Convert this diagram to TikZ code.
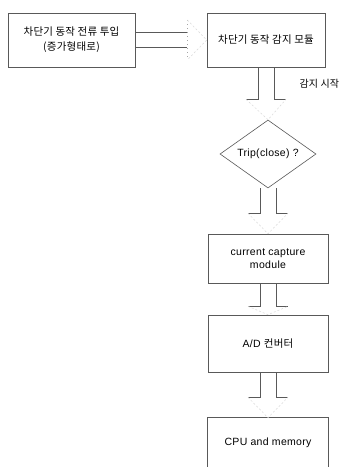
\documentclass[tikz,border=0pt]{standalone}
\usepackage{fontspec}
\setmainfont{Liberation Sans}[LetterSpace=3]
\newfontfamily\kr{Noto Sans CJK KR}[LetterSpace=2]
\usetikzlibrary{calc,shapes.geometric}
\tikzset{
  conn/.style={draw=black!65, line width=0.6pt},
  faint/.style={draw=black!15, line width=0.5pt, dash pattern=on 2pt off 2pt},
  boxnode/.style={draw=black!65, line width=0.6pt, minimum width=120pt, align=center, inner sep=0pt, font=\fontsize{10.5}{13}\selectfont},
  krtext/.style={font=\kr\fontsize{10.5}{15}\selectfont},
}
\newcommand\blockarrow[3]{%
  \draw[conn] ($(#1.south)+(-8,0)$) -- ++(0,#3) -- ++(-12,0);
  \draw[conn] ($(#1.south)+(8,0)$) -- ++(0,#3) -- ++(12,0);
  \draw[faint] ($(#1.south)+(-20,#3)$) -- (#2.north) -- ($(#1.south)+(20,#3)$);}
\begin{document}
\begin{tikzpicture}[x=1pt,y=-1pt]
\useasboundingbox[fill=white] (0,0) rectangle (345,467);
\node[boxnode, krtext, minimum width=127pt, minimum height=54pt] (inject) at (71.5,40) {차단기 동작 전류 투입\\(증가형태로)};
\node[boxnode, krtext, minimum width=118pt, minimum height=54pt] (detect) at (266,40) {차단기 동작 감지 모듈};
\node[conn, shape=diamond, aspect=1.4, minimum width=96pt, minimum height=68pt, inner sep=0pt, font=\fontsize{10.5}{13}\selectfont] (trip) at (268,154) {Trip(close) ?};
\node[boxnode, minimum height=49pt] (capture) at (268,258.5) {current capture\\module};
\node[boxnode, minimum height=57pt] (adc) at (268,343.5) {A/D {\kr 컨버터}};
\node[boxnode, draw=none, minimum height=50pt] (cpu) at (268,443) {CPU and memory};
\draw[conn] (cpu.south west) |- (cpu.north east) -- (cpu.south east);
\node[font=\kr\fontsize{10}{12}\selectfont, anchor=west] (start) at (296,84) {감지 시작};
% horizontal block arrow
\coordinate (hb1) at ($(inject.east)+(52,-8)$);
\coordinate (hb2) at ($(inject.east)+(52,7)$);
\draw[conn] ($(inject.east)+(0,-8)$) -- (hb1);
\draw[conn] ($(inject.east)+(0,7)$) -- (hb2);
\draw[draw=black!35, line width=0.5pt, dash pattern=on 1pt off 3pt] ($(hb1)+(0,-12)$) -- ($(hb2)+(0,13)$);
\draw[faint] ($(hb1)+(0,-12)$) -- (detect.west) -- ($(hb2)+(0,13)$);
% vertical block arrows
\blockarrow{detect}{trip}{32}
\blockarrow{trip}{capture}{25}
\blockarrow{capture}{adc}{23}
\blockarrow{adc}{cpu}{25}
\end{tikzpicture}
\end{document}
